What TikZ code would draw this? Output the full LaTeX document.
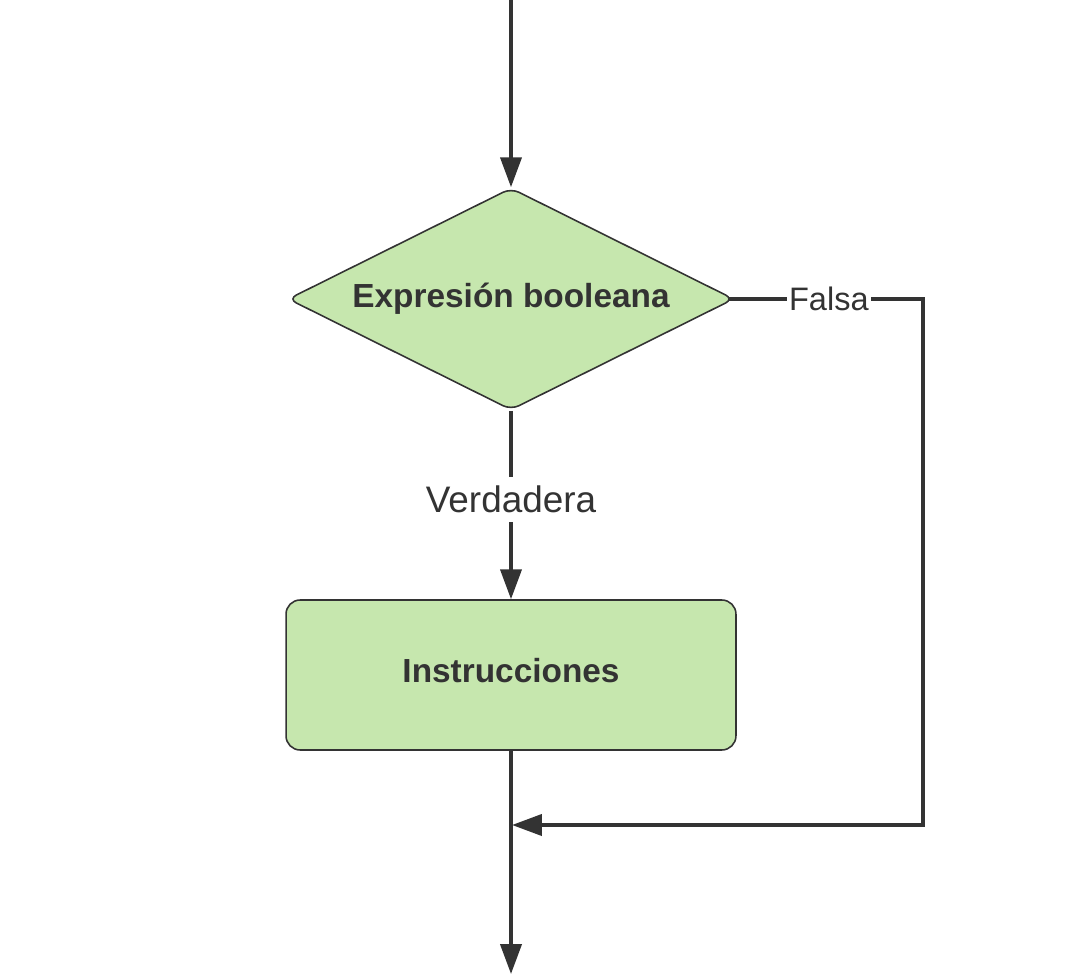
\documentclass[tikz,border=0pt]{standalone}
\usepackage{fontspec}
\setmainfont{Liberation Sans}
\usepackage{tikz}
\usetikzlibrary{arrows.meta, shapes.geometric, positioning}

\definecolor{boxgreen}{HTML}{C6E7AE}
\definecolor{inkgray}{HTML}{333333}

\tikzset{
  decision/.style={diamond, draw=inkgray, fill=boxgreen, line width=0.9pt, rounded corners=5pt,
    aspect=2, minimum width=8.92cm, minimum height=4.44cm, inner sep=0pt,
    font=\fontsize{19}{23}\selectfont\bfseries, text=inkgray},
  process/.style={rectangle, draw=inkgray, fill=boxgreen, line width=0.9pt, rounded corners=8pt,
    minimum width=9cm, minimum height=3cm, text depth=5.6pt,
    font=\fontsize{19}{23}\selectfont\bfseries, text=inkgray},
  flow/.style={draw=inkgray, line width=2pt, -{Triangle[width=12pt,length=17pt]}},
  lbl/.style={fill=white, inner xsep=1.5pt, inner ysep=5pt, text=inkgray}
}

\begin{document}
\begin{tikzpicture}[x=0.02cm, y=-0.02cm]
  \useasboundingbox (0,0) rectangle (1069,976);
  %\draw [step=50] (0,0) grid (1069,976);
  \node[decision] (cond) at (511,299) {Expresión booleana};
  \node[process] (instr) at (511,675) {Instrucciones};

  \coordinate (in) at (511,0);
  \coordinate (turn) at (923,299);
  \coordinate (merge) at (512,825);
  \coordinate (out) at (511,974);

  \draw[flow] (in) -- (cond.north);
  \draw[flow] (cond.south) -- node[lbl, pos=0.47, font=\fontsize{21}{25}\selectfont]{Verdadera} (instr.north);
  \draw[flow, shorten <=-3pt] (cond.east) -- node[lbl, font=\fontsize{18.5}{22}\selectfont]{Falsa} (turn) |- (merge);
  \draw[flow] (instr.south) -- (out);
\end{tikzpicture}
\end{document}
